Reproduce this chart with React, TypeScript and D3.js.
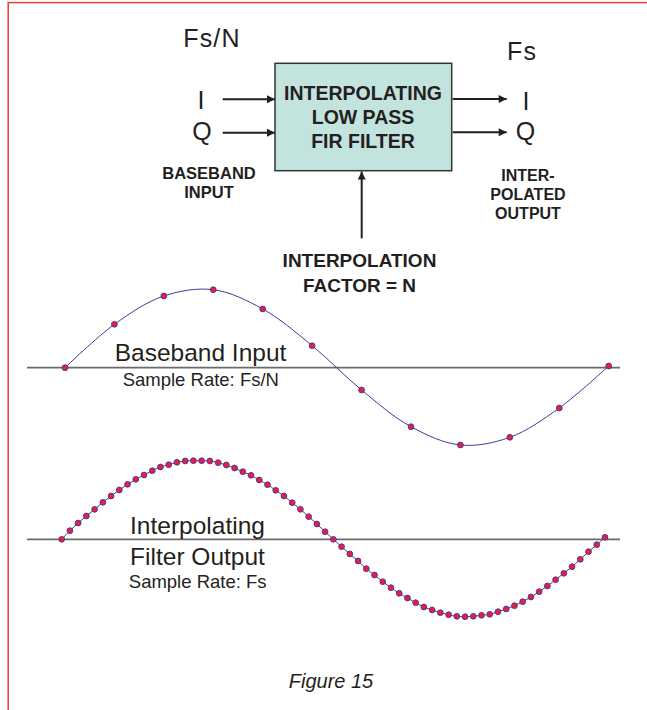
import React from "react";
import * as d3 from "d3";

// ---- data ----
const inputSamples = [0, 43.4, 71.7, 78, 58.7, 22, -22.3, -59, -77.3, -69.6, -40.3, 1.7];
const outputSamples = [
  0, 8.6, 16.3, 23.3, 30, 37, 43.3, 49.3, 55, 60, 64.3, 68.6, 72.3, 74.6, 77, 78.3, 78.6, 78.6,
  78.3, 76.6, 74.3, 71.3, 67.6, 64, 59.3, 54.6, 49, 43.3, 36.6, 30, 22.6, 15.3, 7.6, 0, -7.4,
  -14.7, -21.7, -29.4, -35.7, -42.4, -48.4, -54, -58.7, -63.4, -67.7, -70.7, -73.4, -75.4, -77,
  -77.4, -77, -76, -75, -72.4, -69.7, -66.4, -62.4, -57.7, -52.4, -46.7, -40.4, -34, -27.4, -20,
  -12.4, -5.4, 2,
];
const boxLines = ["INTERPOLATING", "LOW PASS", "FIR FILTER"];
const inputLabelLines = ["BASEBAND", "INPUT"];
const outputLabelLines = ["INTER-", "POLATED", "OUTPUT"];
const factorLines = ["INTERPOLATION", "FACTOR = N"];
const wave1Title = ["Baseband Input"];
const wave1Rate = "Sample Rate: Fs/N";
const wave2Title = ["Interpolating", "Filter Output"];
const wave2Rate = "Sample Rate: Fs";
const caption = "Figure 15";

const W = 647;
const H = 710;
const FONT = "'Liberation Sans', Arial, Helvetica, sans-serif";
const INK = "#231f20";
const RED = "#ec1c3a";
const BLUE = "#3b3ba0";

function Wave({ data, x0, x1, base }: { data: number[]; x0: number; x1: number; base: number }) {
  const x = d3.scaleLinear().domain([0, data.length - 1]).range([x0, x1]);
  const y = d3.scaleLinear().domain([-80, 80]).range([base + 80, base - 80]);
  const line = d3
    .line<number>()
    .x((_, i) => x(i))
    .y((d) => y(d))
    .curve(d3.curveCatmullRom.alpha(0.5));
  return (
    <g>
      <line x1={27} x2={620} y1={y(0)} y2={y(0)} stroke="#6a6a6a" strokeWidth={1.7} />
      <path d={line(data) || ""} fill="none" stroke={BLUE} strokeWidth={1} />
      {data.map((d, i) => (
        <circle key={i} cx={x(i)} cy={y(d)} r={2.9} fill={RED} stroke={BLUE} strokeWidth={0.9} />
      ))}
    </g>
  );
}

export default function App() {
  React.useEffect(() => {
    document.body.style.margin = "0";
  }, []);
  return (
    <svg
      width={W}
      height={H}
      viewBox={`0 0 ${W} ${H}`}
      style={{ position: "absolute", left: 0, top: 0, display: "block", background: "#fff" }}
      fontFamily={FONT}
    >
      <defs>
        <marker
          id="arrow"
          viewBox="0 0 10 10"
          refX={10}
          refY={5}
          markerWidth={9}
          markerHeight={8}
          markerUnits="userSpaceOnUse"
          orient="auto"
        >
          <path d="M0,0 L10,5 L0,10 z" fill={INK} />
        </marker>
      </defs>
      <rect x={0} y={0} width={W} height={H} fill="#fff" />
      {/* red frame */}
      <rect x={8.2} y={2.6} width={W + 20} height={H + 20} fill="none" stroke="#ec3b3b" strokeWidth={1.5} />

      {/* rate labels */}
      <text x={212} y={47} fontSize={25} textAnchor="middle" fill={INK} letterSpacing={1.2}>
        Fs/N
      </text>
      <text x={522} y={59.5} fontSize={25} textAnchor="middle" fill={INK} letterSpacing={1.2}>
        Fs
      </text>

      {/* I / Q input */}
      <text x={201} y={109.3} fontSize={25} textAnchor="middle" fill={INK}>I</text>
      <text x={202} y={139.5} fontSize={25} textAnchor="middle" fill={INK}>Q</text>
      <line x1={222.7} x2={275} y1={99.3} y2={99.3} stroke={INK} strokeWidth={2} markerEnd="url(#arrow)" />
      <line x1={222.7} x2={275} y1={132.7} y2={132.7} stroke={INK} strokeWidth={2} markerEnd="url(#arrow)" />

      {/* filter box */}
      <rect x={275} y={63.3} width={176.7} height={107.4} fill="#c3e3df" stroke="#333" strokeWidth={1.5} />
      {boxLines.map((t, i) => (
        <text key={t} x={363} y={100 + i * 24.2} fontSize={19.5} fontWeight="bold" textAnchor="middle" fill={INK}>
          {t}
        </text>
      ))}

      {/* outputs */}
      <line x1={452.7} x2={506.7} y1={99} y2={99} stroke={INK} strokeWidth={2} markerEnd="url(#arrow)" />
      <line x1={452.7} x2={506.7} y1={132.3} y2={132.3} stroke={INK} strokeWidth={2} markerEnd="url(#arrow)" />
      <text x={526} y={110} fontSize={25} textAnchor="middle" fill={INK}>I</text>
      <text x={525.5} y={140} fontSize={25} textAnchor="middle" fill={INK}>Q</text>

      {inputLabelLines.map((t, i) => (
        <text key={t} x={209} y={178.5 + i * 19.5} fontSize={16.5} fontWeight="bold" textAnchor="middle" fill={INK}>
          {t}
        </text>
      ))}
      {outputLabelLines.map((t, i) => (
        <text key={t} x={528} y={181 + i * 19.2} fontSize={16} fontWeight="bold" textAnchor="middle" fill={INK}>
          {t}
        </text>
      ))}

      {/* interpolation factor */}
      <line x1={361.7} x2={361.7} y1={238.3} y2={171.5} stroke={INK} strokeWidth={2} markerEnd="url(#arrow)" />
      {factorLines.map((t, i) => (
        <text key={t} x={359.5} y={266.7 + i * 25} fontSize={19} fontWeight="bold" textAnchor="middle" fill={INK}>
          {t}
        </text>
      ))}

      {/* waveforms */}
      <Wave data={inputSamples} x0={65} x1={608.7} base={367.7} />
      {wave1Title.map((t) => (
        <text key={t} x={200.5} y={361} fontSize={24.5} textAnchor="middle" fill={INK}>
          {t}
        </text>
      ))}
      <text x={200.8} y={386} fontSize={18.5} textAnchor="middle" fill={INK}>
        {wave1Rate}
      </text>

      <Wave data={outputSamples} x0={61.7} x1={605} base={539.3} />
      {wave2Title.map((t, i) => (
        <text key={t} x={197.5} y={533.5 + i * 31.5} fontSize={24.5} textAnchor="middle" fill={INK}>
          {t}
        </text>
      ))}
      <text x={197.7} y={588.3} fontSize={18.5} textAnchor="middle" fill={INK}>
        {wave2Rate}
      </text>

      <text x={331} y={688} fontSize={20} fontStyle="italic" textAnchor="middle" fill={INK}>
        {caption}
      </text>
    </svg>
  );
}
